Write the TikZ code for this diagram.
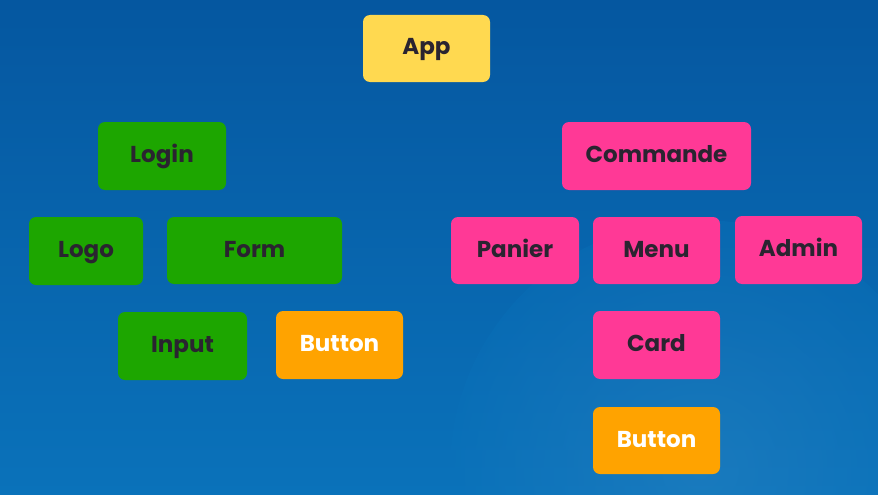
\documentclass[tikz,border=0pt]{standalone}
\usepackage{fontspec}
\setmainfont{Poppins}
\definecolor{bgtop}{HTML}{0557A0}
\definecolor{bgbot}{HTML}{0A72BA}
\definecolor{cyellow}{HTML}{FFD950}
\definecolor{cgreen}{HTML}{1DA600}
\definecolor{cpink}{HTML}{FF3996}
\definecolor{corange}{HTML}{FFA300}
\definecolor{ctext}{HTML}{2A2430}
\tikzset{
  box/.style={rounded corners=7pt, inner sep=0pt, font=\bfseries\fontsize{23}{26}\selectfont, text=ctext, text height=13pt, text depth=0pt},
  yel/.style={box, fill=cyellow},
  grn/.style={box, fill=cgreen},
  pnk/.style={box, fill=cpink},
  org/.style={box, fill=corange, text=white},
}
\begin{document}
\begin{tikzpicture}[x=1pt,y=-1pt]
\useasboundingbox (0,0) rectangle (878,495);
\shade[top color=bgtop, bottom color=bgbot] (0,0) rectangle (878,495);
\shade[inner color=bgbot!80!white!90!bgbot, outer color=bgbot, opacity=0.35] (700,470) circle (250);
% boxes
\node[yel, minimum width=127pt, minimum height=67pt] (app) at (426.5,48.5) {App};
\node[grn, minimum width=128pt, minimum height=68pt] (login) at (162,156) {Login};
\node[grn, minimum width=114pt, minimum height=68pt] (logo) at (86,251) {Logo};
\node[grn, minimum width=175pt, minimum height=67pt] (form) at (254.5,250.5) {Form};
\node[grn, minimum width=129pt, minimum height=68pt] (input) at (182.5,346) {Input};
\node[org, minimum width=127pt, minimum height=68pt] (btn1) at (339.5,345) {Button};
\node[pnk, minimum width=189pt, minimum height=68pt] (cmd) at (656.5,156) {Commande};
\node[pnk, minimum width=128pt, minimum height=67pt] (panier) at (515,250.5) {Panier};
\node[pnk, minimum width=127pt, minimum height=67pt] (menu) at (656.5,250.5) {Menu};
\node[pnk, minimum width=127pt, minimum height=68pt] (admin) at (798.5,250) {Admin};
\node[pnk, minimum width=127pt, minimum height=68pt] (card) at (656.5,345) {Card};
\node[org, minimum width=127pt, minimum height=67pt] (btn2) at (656.5,440.5) {Button};
\end{tikzpicture}
\end{document}
